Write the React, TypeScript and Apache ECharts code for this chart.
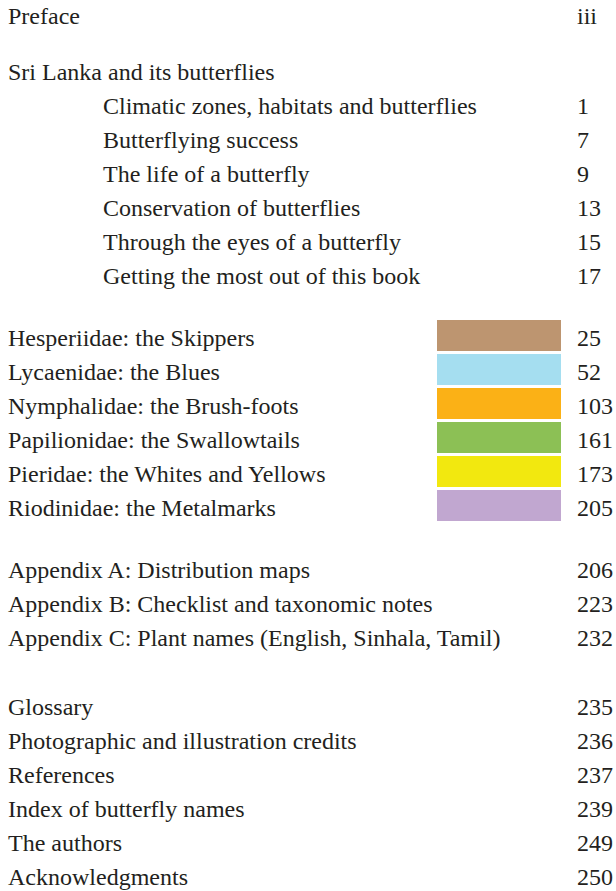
import React, { useEffect, useRef } from "react";
import * as echarts from "echarts";

const prefaceTitle = "Preface";
const prefacePage = "iii";
const introHeading = "Sri Lanka and its butterflies";
const introTitles = [
  "Climatic zones, habitats and butterflies",
  "Butterflying success",
  "The life of a butterfly",
  "Conservation of butterflies",
  "Through the eyes of a butterfly",
  "Getting the most out of this book",
];
const introPages = ["1", "7", "9", "13", "15", "17"];
const familyTitles = [
  "Hesperiidae: the Skippers",
  "Lycaenidae: the Blues",
  "Nymphalidae: the Brush-foots",
  "Papilionidae: the Swallowtails",
  "Pieridae: the Whites and Yellows",
  "Riodinidae: the Metalmarks",
];
const familyPages = ["25", "52", "103", "161", "173", "205"];
const familyColors = ["#bd9570", "#a5def0", "#fbb116", "#8cc055", "#f2e80f", "#c1a7d0"];
const appendixTitles = [
  "Appendix A: Distribution maps",
  "Appendix B: Checklist and taxonomic notes",
  "Appendix C: Plant names (English, Sinhala, Tamil)",
];
const appendixPages = ["206", "223", "232"];
const backTitles = [
  "Glossary",
  "Photographic and illustration credits",
  "References",
  "Index of butterfly names",
  "The authors",
  "Acknowledgments",
];
const backPages = ["235", "236", "237", "239", "249", "250"];

const FONT = "Liberation Serif";
const COLOR = "#231f20";
const SIZE = 24;
const PITCH = 34;
const LEFT = 8;
const INDENT = 103;
const PAGE_X = 577;

export default function App() {
  const ref = useRef<HTMLDivElement>(null);
  useEffect(() => {
    if (!ref.current) return;
    const chart = echarts.init(ref.current, null, { renderer: "svg" });
    const els: any[] = [];
    const txt = (x: number, y: number, s: string) => {
      els.push({
        type: "text",
        x,
        y,
        style: {
          text: s,
          fontFamily: FONT,
          fontSize: SIZE,
          fill: COLOR,
          textAlign: "left",
          textVerticalAlign: "middle",
        },
      });
    };
    const row = (y: number, x: number, title: string, page: string) => {
      txt(x, y, title);
      txt(PAGE_X, y, page);
    };
    row(16, LEFT, prefaceTitle, prefacePage);
    txt(LEFT, 72, introHeading);
    introTitles.forEach((t, i) => row(106 + i * PITCH, INDENT, t, introPages[i]));
    familyTitles.forEach((t, i) => {
      const y = 337 + i * PITCH;
      els.push({
        type: "rect",
        shape: { x: 437, y: y - 17, width: 124, height: 31 },
        style: { fill: familyColors[i] },
      });
      row(y + 1, LEFT, t, familyPages[i]);
    });
    appendixTitles.forEach((t, i) => row(570 + i * PITCH, LEFT, t, appendixPages[i]));
    backTitles.forEach((t, i) => row(707 + i * PITCH, LEFT, t, backPages[i]));
    chart.setOption({
      animation: false,
      backgroundColor: "#ffffff",
      graphic: { elements: els },
    });
    return () => chart.dispose();
  }, []);
  return (
    <div
      ref={ref}
      style={{ position: "fixed", left: 0, top: 0, width: 616, height: 891 }}
    />
  );
}
